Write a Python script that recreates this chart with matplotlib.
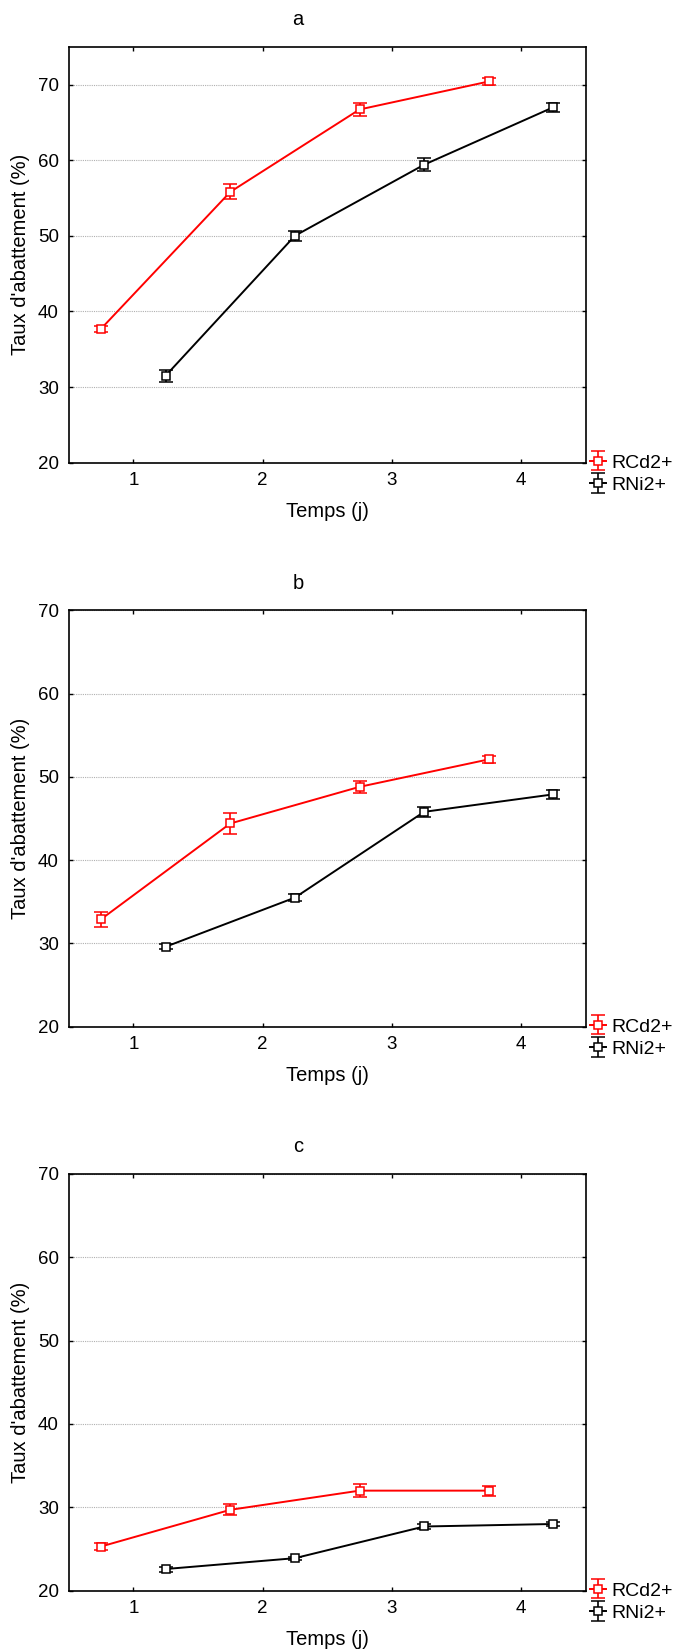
import matplotlib
matplotlib.use("Agg")
import matplotlib.pyplot as plt

plt.rcParams['font.family'] = ['Liberation Sans', 'DejaVu Sans']

# Data
panel_titles = ["a", "b", "c"]
series_names = ["RCd2+", "RNi2+"]
x_cd = [0.75, 1.75, 2.75, 3.75]
x_ni = [1.25, 2.25, 3.25, 4.25]

cd_a = [37.7, 55.8, 66.7, 70.4]
cd_a_err = [0.4, 1.0, 0.9, 0.4]
ni_a = [31.5, 50.0, 59.4, 67.0]
ni_a_err = [0.8, 0.65, 0.9, 0.6]

cd_b = [32.9, 44.4, 48.8, 52.1]
cd_b_err = [0.9, 1.25, 0.7, 0.45]
ni_b = [29.6, 35.5, 45.8, 47.9]
ni_b_err = [0.3, 0.4, 0.6, 0.5]

cd_c = [25.3, 29.7, 32.0, 32.0]
cd_c_err = [0.4, 0.65, 0.75, 0.6]
ni_c = [22.6, 23.9, 27.7, 28.0]
ni_c_err = [0.3, 0.2, 0.3, 0.2]

y_ticks = [20, 30, 40, 50, 60, 70]
x_ticks = [1, 2, 3, 4]
y_tops = [75, 70, 70]

panels = [
    (cd_a, cd_a_err, ni_a, ni_a_err),
    (cd_b, cd_b_err, ni_b, ni_b_err),
    (cd_c, cd_c_err, ni_c, ni_c_err),
]

W, H = 678, 1651
fig = plt.figure(figsize=(W / 100, H / 100), dpi=100)

ax_left, ax_right = 68.7, 585.7
tops = [46.7, 610.3, 1173.8]
bottoms = [462.7, 1026.7, 1590.7]

for i, (cd, cde, ni, nie) in enumerate(panels):
    t, b = tops[i], bottoms[i]
    ax = fig.add_axes([ax_left / W, 1 - b / H, (ax_right - ax_left) / W, (b - t) / H])
    h1 = ax.errorbar(x_cd, cd, yerr=cde, color='#ff0000', marker='s', ms=6.3,
                     mfc='white', mec='#ff0000', mew=1.1, lw=1.4,
                     elinewidth=1.2, capsize=4.8, capthick=1.2, label=series_names[0], zorder=3)
    h2 = ax.errorbar(x_ni, ni, yerr=nie, color='black', marker='s', ms=6.3,
                     mfc='white', mec='black', mew=1.1, lw=1.4,
                     elinewidth=1.2, capsize=4.8, capthick=1.2, label=series_names[1], zorder=3)
    ax.set_xlim(0.5, 4.5)
    ax.set_ylim(20, y_tops[i])
    ax.set_xticks(x_ticks)
    ax.set_yticks(y_ticks)
    ax.tick_params(direction='in', length=3, width=1, top=True, right=True,
                   labelsize=13.5, pad=7, colors='black')
    ax.grid(axis='y', color='#b0b0b0', linestyle=(0, (1, 1)), linewidth=0.8)
    ax.set_axisbelow(True)
    for s in ax.spines.values():
        s.set_linewidth(1.2)
        s.set_color('black')
    ax.set_xlabel("Temps (j)", fontsize=14.5, va='center')
    ax.xaxis.set_label_coords(0.5, -49 / (b - t))
    ax.set_ylabel("Taux d'abattement (%)", fontsize=14.5, va='center')
    ax.yaxis.set_label_coords((21 - ax_left) / (ax_right - ax_left), 0.5)
    leg = ax.legend(handles=[h1, h2], loc='center left',
                    bbox_to_anchor=(1.009, -0.027), frameon=False, fontsize=14,
                    handlelength=0.8, handletextpad=0.3, labelspacing=0.25,
                    borderpad=0, borderaxespad=0)
    fig.text(298 / W, 1 - (t - 27) / H, panel_titles[i], fontsize=14.5,
             ha='center', va='center')

fig.savefig("out.png", dpi=100)
